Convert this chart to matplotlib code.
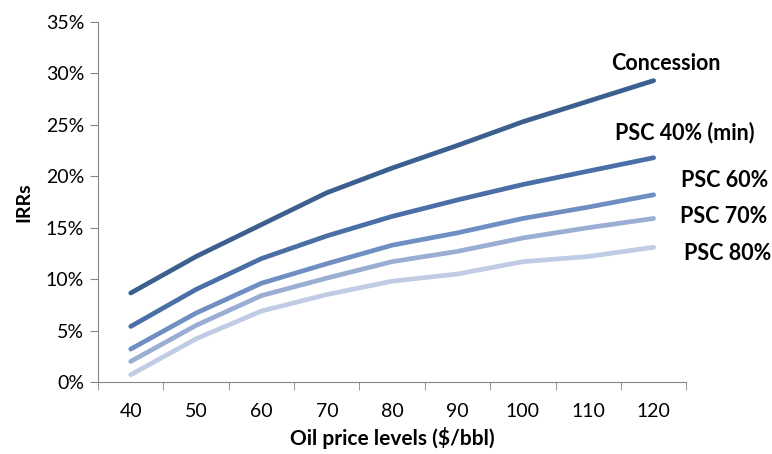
import numpy as np
import matplotlib.pyplot as plt
from matplotlib.ticker import FixedLocator

plt.rcParams['font.family'] = ['Lato', 'DejaVu Sans']

prices = [40, 50, 60, 70, 80, 90, 100, 110, 120]
concession = [8.65, 12.2, 15.3, 18.4, 20.8, 23.0, 25.3, 27.3, 29.3]
psc40 = [5.4, 9.0, 12.0, 14.2, 16.1, 17.7, 19.2, 20.5, 21.8]
psc60 = [3.2, 6.7, 9.6, 11.5, 13.3, 14.5, 15.9, 17.0, 18.2]
psc70 = [2.0, 5.5, 8.4, 10.1, 11.7, 12.7, 14.0, 15.0, 15.9]
psc80 = [0.7, 4.2, 6.9, 8.5, 9.8, 10.5, 11.7, 12.2, 13.1]

series = [
    ("Concession", concession, "#3b5f8e", (0.966, 0.886)),
    ("PSC 40% (min)", psc40, "#4a6fa6", (0.997, 0.692)),
    ("PSC 60%", psc60, "#6f8fc2", (1.065, 0.561)),
    ("PSC 70%", psc70, "#9aaed3", (1.063, 0.461)),
    ("PSC 80%", psc80, "#c0cce3", (1.070, 0.358)),
]

fig = plt.figure(figsize=(7.72, 4.54), dpi=100)
ax = fig.add_axes([0.127, 0.1586, 0.762, 0.793])

x = np.arange(len(prices))
for name, vals, col, pos in series:
    ax.plot(x, vals, color=col, lw=3.4, solid_capstyle='round')
    ax.text(pos[0], pos[1], name, transform=ax.transAxes, ha='center', va='center',
            fontsize=15.5, fontweight='bold', clip_on=False)

ax.set_xlim(-0.5, len(prices) - 0.5)
ax.set_ylim(0, 35)
ax.set_yticks(range(0, 36, 5))
ax.set_yticklabels([f"{v}%" for v in range(0, 36, 5)])
ax.set_xticks(x)
ax.set_xticklabels([str(p) for p in prices])
ax.xaxis.set_major_locator(FixedLocator(x))
ax.set_xticks(np.arange(-0.5, len(prices), 1.0), minor=True)
ax.tick_params(axis='x', which='major', length=0, pad=15, labelsize=14)
ax.tick_params(axis='x', which='minor', length=6, color='#868686', direction='out')
ax.tick_params(axis='y', length=6, color='#868686', labelsize=14, pad=4)

for s in ['top', 'right']:
    ax.spines[s].set_visible(False)
for s in ['left', 'bottom']:
    ax.spines[s].set_color('#868686')

ax.set_xlabel("Oil price levels ($/bbl)", fontsize=15, fontweight='bold', labelpad=5)
ax.set_ylabel("IRRs", fontsize=14, fontweight='bold', labelpad=10)

fig.savefig("out.png", dpi=100)
